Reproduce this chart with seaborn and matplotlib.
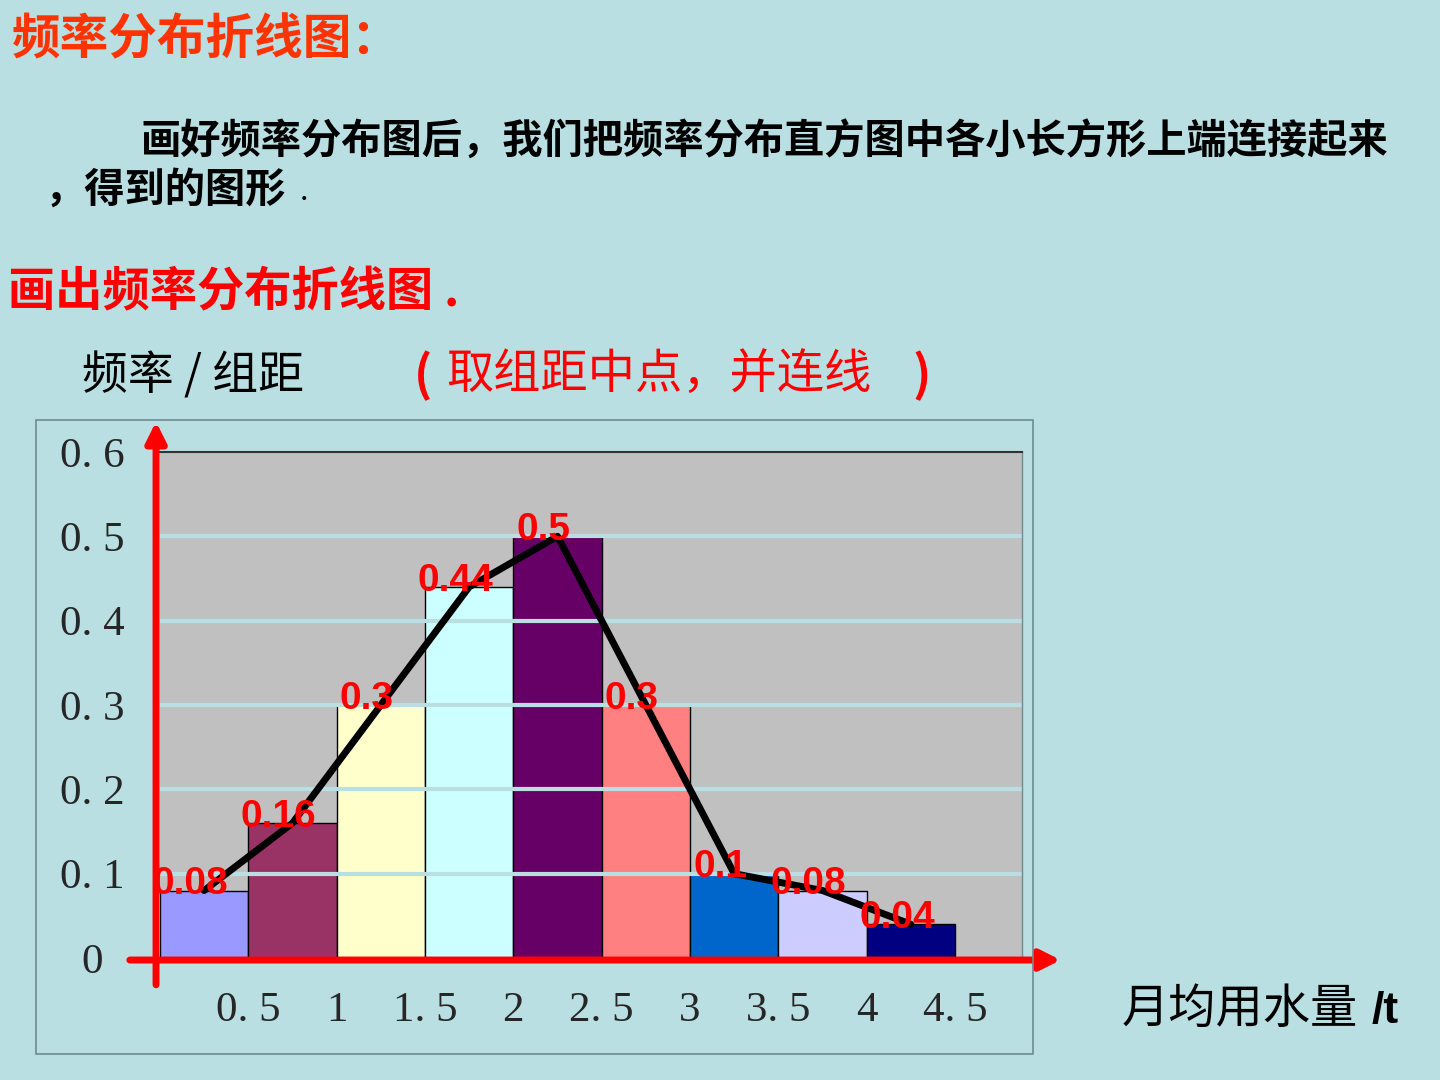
import numpy as np
import pandas as pd
import seaborn as sns
import matplotlib
matplotlib.use('Agg')
import matplotlib.pyplot as plt
from matplotlib.patches import Rectangle


# data
bin_edges = [0, 0.5, 1, 1.5, 2, 2.5, 3, 3.5, 4, 4.5]
freq = [0.08, 0.16, 0.30, 0.44, 0.50, 0.30, 0.10, 0.08, 0.04]
bar_colors = ['#9999FF', '#993366', '#FFFFCC', '#CCFFFF', '#660066',
              '#FF8080', '#0066CC', '#CCCCFF', '#000080']
xtick_labels = ['0. 5', '1', '1. 5', '2', '2. 5', '3', '3. 5', '4', '4. 5']
yticks = [0, 0.1, 0.2, 0.3, 0.4, 0.5, 0.6]
ytick_labels = ['0', '0. 1', '0. 2', '0. 3', '0. 4', '0. 5', '0. 6']

SLIDE_BG = '#B9DFE2'
W, H = 1440, 1080

mids = [(a + b) / 2 for a, b in zip(bin_edges[:-1], bin_edges[1:])]
df = pd.DataFrame({'mid': mids, 'freq': freq,
                   'grp': ['g%d' % i for i in range(len(freq))]})

sns.set_style('white')
plt.rcParams['font.family'] = ['Noto Sans CJK SC', 'DejaVu Sans']

fig = plt.figure(figsize=(14.4, 10.8), dpi=100, facecolor=SLIDE_BG)


def fx(px):
    return px / W


def fy(py):
    return 1 - py / H


# outer chart frame
fig.add_artist(Rectangle((fx(36), fy(1054)), fx(1033) - fx(36), fy(420) - fy(1054),
                         transform=fig.transFigure, facecolor='none',
                         edgecolor='#6E8C90', lw=1.2))

ax = fig.add_axes([fx(160), fy(958), fx(1022) - fx(160), fy(452) - fy(958)])
ax.set_facecolor('#C0C0C0')

sns.barplot(data=df, x='mid', y='freq', hue='grp', palette=bar_colors,
            native_scale=True, dodge=False, width=1, errorbar=None, saturation=1,
            edgecolor='black', linewidth=1, legend=False, ax=ax, zorder=1)

# light grid lines drawn over the bars
for v in yticks[1:-1]:
    ax.axhline(v, color=SLIDE_BG, lw=3, zorder=2)

sns.lineplot(data=df, x='mid', y='freq', color='black', lw=5, ax=ax, zorder=4)

for m, v in zip(mids, freq):
    ax.annotate('%g' % v, (m, v), xytext=(-10, 4.5), textcoords='offset points',
                ha='center', va='center', color='red', fontsize=28,
                fontweight='bold', family='Liberation Sans', zorder=5)

ax.set_xlim(0, 4.879)
ax.set_ylim(0, 0.6)
ax.set_xlabel('')
ax.set_ylabel('')
ax.set_xticks(bin_edges[1:])
ax.set_xticklabels(xtick_labels, family='Liberation Serif', fontsize=31)
ax.set_yticks(yticks)
ax.set_yticklabels(ytick_labels, family='Liberation Serif', fontsize=31, ha='center')
ax.tick_params(axis='x', length=0, pad=24)
ax.tick_params(axis='y', length=0, pad=49)

for s in ['left', 'bottom']:
    ax.spines[s].set_visible(False)
ax.spines['top'].set_color('#333333')
ax.spines['top'].set_linewidth(1.5)
ax.spines['right'].set_color('#708A8E')
ax.spines['right'].set_linewidth(1)

# red hand-drawn axes with arrows
arrow = dict(arrowstyle='-|>', color='red', lw=5, mutation_scale=30,
             shrinkA=0, shrinkB=0)
ax.annotate('', xy=(-0.0046, 1.06), xytext=(-0.0046, -0.053),
            xycoords='axes fraction', arrowprops=arrow, annotation_clip=False, zorder=6)
ax.annotate('', xy=(1.045, -0.004), xytext=(-0.035, -0.004),
            xycoords='axes fraction', arrowprops=arrow, annotation_clip=False, zorder=6)

# slide texts
fig.text(fx(12), fy(40), '频率分布折线图：', color='#FF3300', fontsize=35,
         fontweight='bold', va='center', ha='left')
fig.text(fx(140), fy(142), '画好频率分布图后，我们把频率分布直方图中各小长方形上端连接起来',
         color='black', fontsize=29, fontweight='bold', va='center', ha='left')
fig.text(fx(44), fy(190), '，得到的图形', color='black', fontsize=29,
         fontweight='bold', va='center', ha='left')
fig.text(fx(300), fy(192), '.', color='black', fontsize=22,
         va='center', ha='left')
fig.text(fx(8), fy(292), '画出频率分布折线图 .', color='#FF0000', fontsize=34,
         fontweight='bold', va='center', ha='left')
fig.text(fx(82), fy(376), '频率 / 组距', color='black', fontsize=33,
         va='center', ha='left')
fig.text(fx(414), fy(376), '(', color='#FF0000', fontsize=35, fontweight='bold',
         va='center', ha='left')
fig.text(fx(446), fy(376), '取组距中点，并连线', color='#FF0000', fontsize=34,
         va='center', ha='left')
fig.text(fx(912), fy(376), ')', color='#FF0000', fontsize=35, fontweight='bold',
         va='center', ha='left')
fig.text(fx(1122), fy(1010), '月均用水量', color='black', fontsize=34,
         va='center', ha='left')
fig.text(fx(1372), fy(1012), '/t', color='black', fontsize=32, fontweight='bold',
         family='Liberation Sans', va='center', ha='left')

fig.savefig('out.png', dpi=100, facecolor=SLIDE_BG)
